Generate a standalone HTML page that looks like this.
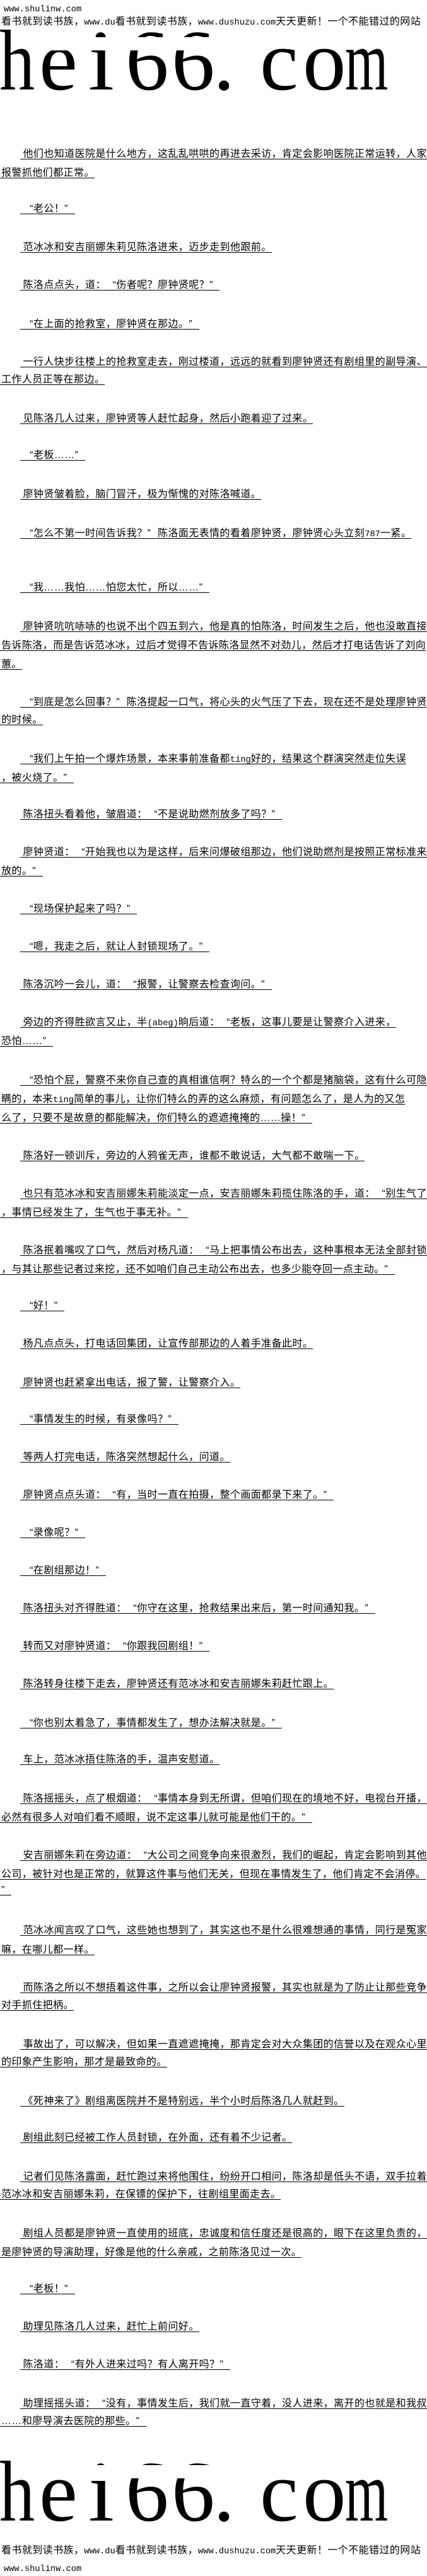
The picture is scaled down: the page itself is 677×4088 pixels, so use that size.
<!DOCTYPE html>
<html><head><meta charset="utf-8">
<style>
html,body{margin:0;padding:0;background:#fff}
body{width:677px;height:4088px;position:relative;overflow:hidden;color:#000}
.l{position:absolute;left:0;padding-left:2px;height:17px;line-height:20px;font-size:16px;letter-spacing:.42px;white-space:nowrap;border-bottom:1px solid #000;font-family:"Liberation Sans","Noto Sans CJK SC",sans-serif;text-spacing-trim:space-all}
.i{left:32px;padding-left:4.5px}
.nu{border-bottom:none}
.l i,.l b{font-style:normal;font-weight:normal;display:inline-block;width:16.42px}
.l i{text-align:right}
.l b{text-align:left}
tt{font-family:"Liberation Mono",monospace;font-size:13.7px;letter-spacing:0}
.w{position:absolute;left:6px;font-family:"Liberation Mono",monospace;font-size:13.7px;line-height:16px;white-space:nowrap}
.g{position:absolute;font-family:"Liberation Serif",serif;font-size:137px;line-height:137px;transform-origin:0 0;white-space:nowrap}
.s{position:absolute;background:#fff;left:58px;width:290px;height:21px}
</style></head><body>

<div class="w" style="top:8px">www.shulinw.com</div>
<div class="l nu" style="top:25px">看书就到读书族，<tt>www.du</tt>看书就到读书族，<tt>www.dushuzu.com</tt>天天更新！一个不能错过的网站</div>

<span class="g" style="top:28px;left:-1px;transform:scaleX(.82)">h</span>
<span class="g" style="top:28px;left:62px">e</span>
<span class="g" style="top:28px;left:140px;transform:scaleX(1.08)">i</span>
<span class="g" style="top:28px;left:199px">6</span>
<span class="g" style="top:28px;left:272px">6</span>
<span class="g" style="top:28px;left:338px">.</span>
<span class="g" style="top:28px;left:412px">c</span>
<span class="g" style="top:28px;left:480px">o</span>
<span class="g" style="top:28px;left:547px;transform:scaleX(.64)">m</span>
<div class="s" style="top:59px"></div>

<div class="l i" style="top:235px">他们也知道医院是什么地方，这乱乱哄哄的再进去采访，肯定会影响医院正常运转，人家</div>
<div class="l" style="top:265px">报警抓他们都正常。</div>
<div class="l i" style="top:322px"><i>“</i>老公！<b>”</b></div>
<div class="l i" style="top:383px">范冰冰和安吉丽娜朱莉见陈洛进来，迈步走到他跟前。</div>
<div class="l i" style="top:443px">陈洛点点头，道：<i>“</i>伤者呢？廖钟贤呢？<b>”</b></div>
<div class="l i" style="top:505px"><i>“</i>在上面的抢救室，廖钟贤在那边。<b>”</b></div>
<div class="l i" style="top:565px">一行人快步往楼上的抢救室走去，刚过楼道，远远的就看到廖钟贤还有剧组里的副导演、</div>
<div class="l" style="top:593px">工作人员正等在那边。</div>
<div class="l i" style="top:655px">见陈洛几人过来，廖钟贤等人赶忙起身，然后小跑着迎了过来。</div>
<div class="l i" style="top:713px"><i>“</i>老板……<b>”</b></div>
<div class="l i" style="top:775px">廖钟贤皱着脸，脑门冒汗，极为惭愧的对陈洛喊道。</div>
<div class="l i" style="top:837px"><i>“</i>怎么不第一时间告诉我？<b>”</b>陈洛面无表情的看着廖钟贤，廖钟贤心头立刻<tt>787</tt>一紧。</div>
<div class="l i" style="top:923px"><i>“</i>我……我怕……怕您太忙，所以……<b>”</b></div>
<div class="l i" style="top:985px">廖钟贤吭吭哧哧的也说不出个四五到六，他是真的怕陈洛，时间发生之后，他也没敢直接</div>
<div class="l" style="top:1015px">告诉陈洛，而是告诉范冰冰，过后才觉得不告诉陈洛显然不对劲儿，然后才打电话告诉了刘向</div>
<div class="l" style="top:1045px">蕙。</div>
<div class="l i" style="top:1105px"><i>“</i>到底是怎么回事？<b>”</b>陈洛提起一口气，将心头的火气压了下去，现在还不是处理廖钟贤</div>
<div class="l" style="top:1133px">的时候。</div>
<div class="l i" style="top:1195px"><i>“</i>我们上午拍一个爆炸场景，本来事前准备都<tt>ting</tt>好的，结果这个群演突然走位失误</div>
<div class="l" style="top:1225px">，被火烧了。<b>”</b></div>
<div class="l i" style="top:1283px">陈洛扭头看着他，皱眉道：<i>“</i>不是说助燃剂放多了吗？<b>”</b></div>
<div class="l i" style="top:1343px">廖钟贤道：<i>“</i>开始我也以为是这样，后来问爆破组那边，他们说助燃剂是按照正常标准来</div>
<div class="l" style="top:1373px">放的。<b>”</b></div>
<div class="l i" style="top:1433px"><i>“</i>现场保护起来了吗？<b>”</b></div>
<div class="l i" style="top:1493px"><i>“</i>嗯，我走之后，就让人封锁现场了。<b>”</b></div>
<div class="l i" style="top:1553px">陈洛沉吟一会儿，道：<i>“</i>报警，让警察去检查询问。<b>”</b></div>
<div class="l i" style="top:1613px">旁边的齐得胜欲言又止，半<tt>(abeg)</tt>晌后道：<i>“</i>老板，这事儿要是让警察介入进来，</div>
<div class="l" style="top:1643px">恐怕……<b>”</b></div>
<div class="l i" style="top:1705px"><i>“</i>恐怕个屁，警察不来你自己查的真相谁信啊？特么的一个个都是猪脑袋，这有什么可隐</div>
<div class="l" style="top:1735px">瞒的，本来<tt>ting</tt>简单的事儿，让你们特么的弄的这么麻烦，有问题怎么了，是人为的又怎</div>
<div class="l" style="top:1765px">么了，只要不是故意的都能解决，你们特么的遮遮掩掩的……操！<b>”</b></div>
<div class="l i" style="top:1825px">陈洛好一顿训斥，旁边的人鸦雀无声，谁都不敢说话，大气都不敢喘一下。</div>
<div class="l i" style="top:1885px">也只有范冰冰和安吉丽娜朱莉能淡定一点，安吉丽娜朱莉揽住陈洛的手，道：<i>“</i>别生气了</div>
<div class="l" style="top:1915px">，事情已经发生了，生气也于事无补。<b>”</b></div>
<div class="l i" style="top:1975px">陈洛抿着嘴叹了口气，然后对杨凡道：<i>“</i>马上把事情公布出去，这种事根本无法全部封锁</div>
<div class="l" style="top:2005px">，与其让那些记者过来挖，还不如咱们自己主动公布出去，也多少能夺回一点主动。<b>”</b></div>
<div class="l i" style="top:2063px"><i>“</i>好！<b>”</b></div>
<div class="l i" style="top:2123px">杨凡点点头，打电话回集团，让宣传部那边的人着手准备此时。</div>
<div class="l i" style="top:2185px">廖钟贤也赶紧拿出电话，报了警，让警察介入。</div>
<div class="l i" style="top:2243px"><i>“</i>事情发生的时候，有录像吗？<b>”</b></div>
<div class="l i" style="top:2303px">等两人打完电话，陈洛突然想起什么，问道。</div>
<div class="l i" style="top:2363px">廖钟贤点点头道：<i>“</i>有，当时一直在拍摄，整个画面都录下来了。<b>”</b></div>
<div class="l i" style="top:2423px"><i>“</i>录像呢？<b>”</b></div>
<div class="l i" style="top:2483px"><i>“</i>在剧组那边！<b>”</b></div>
<div class="l i" style="top:2543px">陈洛扭头对齐得胜道：<i>“</i>你守在这里，抢救结果出来后，第一时间通知我。<b>”</b></div>
<div class="l i" style="top:2603px">转而又对廖钟贤道：<i>“</i>你跟我回剧组！<b>”</b></div>
<div class="l i" style="top:2663px">陈洛转身往楼下走去，廖钟贤还有范冰冰和安吉丽娜朱莉赶忙跟上。</div>
<div class="l i" style="top:2725px"><i>“</i>你也别太着急了，事情都发生了，想办法解决就是。<b>”</b></div>
<div class="l i" style="top:2783px">车上，范冰冰捂住陈洛的手，温声安慰道。</div>
<div class="l i" style="top:2845px">陈洛摇摇头，点了根烟道：<i>“</i>事情本身到无所谓，但咱们现在的境地不好，电视台开播，</div>
<div class="l" style="top:2875px">必然有很多人对咱们看不顺眼，说不定这事儿就可能是他们干的。<b>”</b></div>
<div class="l i" style="top:2935px">安吉丽娜朱莉在旁边道：<i>“</i>大公司之间竞争向来很激烈，我们的崛起，肯定会影响到其他</div>
<div class="l" style="top:2965px">公司，被针对也是正常的，就算这件事与他们无关，但现在事情发生了，他们肯定不会消停。</div>
<div class="l" style="top:2990px"><b>”</b></div>
<div class="l i" style="top:3054px">范冰冰闻言叹了口气，这些她也想到了，其实这也不是什么很难想通的事情，同行是冤家</div>
<div class="l" style="top:3085px">嘛，在哪儿都一样。</div>
<div class="l i" style="top:3145px">而陈洛之所以不想捂着这件事，之所以会让廖钟贤报警，其实也就是为了防止让那些竞争</div>
<div class="l" style="top:3173px">对手抓住把柄。</div>
<div class="l i" style="top:3235px">事故出了，可以解决，但如果一直遮遮掩掩，那肯定会对大众集团的信誉以及在观众心里</div>
<div class="l" style="top:3263px">的印象产生影响，那才是最致命的。</div>
<div class="l i" style="top:3325px">《死神来了》剧组离医院并不是特别远，半个小时后陈洛几人就赶到。</div>
<div class="l i" style="top:3383px">剧组此刻已经被工作人员封锁，在外面，还有着不少记者。</div>
<div class="l i" style="top:3445px">记者们见陈洛露面，赶忙跑过来将他围住，纷纷开口相问，陈洛却是低头不语，双手拉着</div>
<div class="l" style="top:3473px">范冰冰和安吉丽娜朱莉，在保镖的保护下，往剧组里面走去。</div>
<div class="l i" style="top:3535px">剧组人员都是廖钟贤一直使用的班底，忠诚度和信任度还是很高的，眼下在这里负责的，</div>
<div class="l" style="top:3565px">是廖钟贤的导演助理，好像是他的什么亲戚，之前陈洛见过一次。</div>
<div class="l i" style="top:3623px"><i>“</i>老板！<b>”</b></div>
<div class="l i" style="top:3683px">助理见陈洛几人过来，赶忙上前问好。</div>
<div class="l i" style="top:3743px">陈洛道：<i>“</i>有外人进来过吗？有人离开吗？<b>”</b></div>
<div class="l i" style="top:3805px">助理摇摇头道：<i>“</i>没有，事情发生后，我们就一直守着，没人进来，离开的也就是和我叔</div>
<div class="l" style="top:3833px">……和廖导演去医院的那些。<b>”</b></div>

<span class="g" style="top:3886px;left:-1px;transform:scaleX(.82)">h</span>
<span class="g" style="top:3886px;left:62px">e</span>
<span class="g" style="top:3886px;left:140px;transform:scaleX(1.08)">i</span>
<span class="g" style="top:3886px;left:199px">6</span>
<span class="g" style="top:3886px;left:272px">6</span>
<span class="g" style="top:3886px;left:338px">.</span>
<span class="g" style="top:3886px;left:412px">c</span>
<span class="g" style="top:3886px;left:480px">o</span>
<span class="g" style="top:3886px;left:547px;transform:scaleX(.64)">m</span>
<div class="s" style="top:3912px"></div>

<div class="l nu" style="top:4038px">看书就到读书族，<tt>www.du</tt>看书就到读书族，<tt>www.dushuzu.com</tt>天天更新！一个不能错过的网站</div>
<div class="w" style="top:4070px">www.shulinw.com</div>

</body></html>
